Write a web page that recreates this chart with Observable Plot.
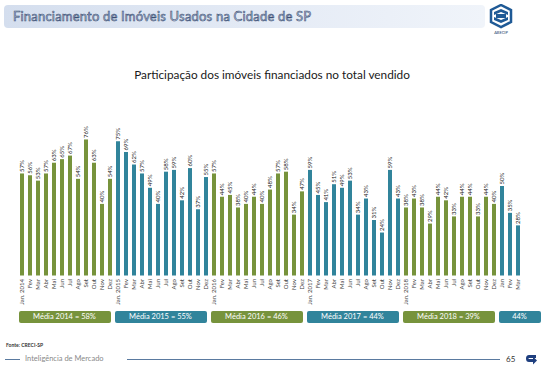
<!DOCTYPE html>
<html>
<head>
<meta charset="utf-8">
<script src="https://cdn.jsdelivr.net/npm/d3@7"></script>
<script src="https://cdn.jsdelivr.net/npm/@observablehq/plot@0.6"></script>
<style>
  html, body { margin:0; padding:0; background:#fff; }
  #root { position:relative; width:544px; height:369px; overflow:hidden; font-family: Lato, "Open Sans", sans-serif; }
  #header { position:absolute; left:4px; top:5px; width:481px; height:23px; border-radius:4px;
    background: linear-gradient(90deg, #d4deee 0%, #e6ecf6 60%, #f0f4fa 100%); }
  #title { position:absolute; left:9px; top:3px; font-size:13px; font-weight:normal; color:#b9c6dc;
    -webkit-text-stroke:0.55px #3a4f74; letter-spacing:0.2px; white-space:nowrap; }
  #logo { position:absolute; left:489px; top:4px; }
  #subtitle { position:absolute; left:0; width:544px; top:67px; text-align:center; font-size:11.8px; color:#1a1a1a; }
  #chart { position:absolute; left:0; top:0; }
  .mean { position:absolute; top:311px; height:12px; line-height:12px; color:#fff; font-size:7.5px; text-align:center; border-radius:2px; white-space:nowrap; }
  #fonte { position:absolute; left:6px; top:342px; font-size:5px; font-weight:bold; color:#333; }
  #footline1 { position:absolute; left:5px; top:359px; width:15px; height:1px; background:#5a7aa0; }
  #footline2 { position:absolute; left:127px; top:359px; width:373px; height:1px; background:#5a7aa0; }
  #foottext { position:absolute; left:25px; top:354px; font-size:7.5px; color:#8a8a8a; white-space:nowrap; }
  #page { position:absolute; left:506px; top:354px; font-size:8px; color:#333; }
  #arrow { position:absolute; left:524px; top:352px; }
</style>
</head>
<body>
<div id="root">
  <div id="header"><div id="title">Financiamento de Imóveis Usados na Cidade de SP</div></div>
  <svg id="logo" width="26" height="32" viewBox="0 0 26 32">
    <polygon points="12,1 22,6 22,18 12,23 2,18 2,6" fill="#fff" stroke="#1f5a96" stroke-width="2.5"/>
    <path d="M5,8 L12,5 L19,8 L19,11 L12,8 L5,11 Z" fill="#1f5a96"/>
    <path d="M5,13 L12,16 L19,13 L19,16 L12,19 L5,16 Z" fill="#1f5a96"/>
    <rect x="7" y="10" width="10" height="4" fill="#1f5a96"/>
    <text x="12" y="30" text-anchor="middle" font-size="4" font-family="Lato" fill="#1f3f6f">ABECIP</text>
  </svg>
  <div id="subtitle">Participação dos imóveis financiados no total vendido</div>
  <div id="chart"></div>
  <div id="fonte">Fonte: CRECI-SP</div>
  <div id="footline1"></div>
  <div id="foottext">Inteligência de Mercado</div>
  <div id="footline2"></div>
  <div id="page">65</div>
  <svg id="arrow" width="14" height="14" viewBox="0 0 14 14">
    <path d="M2,3 L9,3 Q12,3 12,6.5 Q12,10 9,10 L5,10 L5,12.5 L1,8.5 L5,4.5 L5,7 L9,7 Q9.5,7 9.5,6.5 Q9.5,6 9,6 L2,6 Z" fill="#1f3f7f" transform="scale(-1,1) translate(-14,0)"/>
  </svg>
</div>
<script>
const years = [2014, 2015, 2016, 2017, 2018, 2019];
const months = ["Jan","Fev","Mar","Abr","Mai","Jun","Jul","Ago","Set","Out","Nov","Dez"];
const values2014 = [57, 56, 53, 57, 63, 65, 67, 54, 76, 63, 40, 54];
const values2015 = [75, 69, 62, 57, 49, 40, 58, 59, 42, 60, 37, 55];
const values2016 = [57, 44, 45, 38, 40, 44, 40, 48, 57, 58, 34, 47];
const values2017 = [59, 45, 41, 51, 49, 53, 34, 43, 31, 24, 59, 43];
const values2018 = [38, 43, 38, 29, 44, 42, 33, 44, 44, 33, 44, 40];
const values2019 = [50, 35, 28];
const meanLabels = ["Média 2014 = 58%", "Média 2015 = 55%", "Média 2016 = 46%", "Média 2017 = 44%", "Média 2018 = 39%", "44%"];
const yearColors = ["#77933c", "#31849b", "#77933c", "#31849b", "#77933c", "#31849b"];

const series = [values2014, values2015, values2016, values2017, values2018, values2019];
const data = [];
series.forEach((vals, i) => vals.forEach((v, j) => data.push({
  key: years[i] + "-" + j, year: years[i], yi: i, month: j, value: v, color: yearColors[i],
  label: (j === 0 && years[i] !== 2019) ? "Jan. " + years[i] : months[j]
})));
const labelOf = new Map(data.map(d => [d.key, d.label]));

const plot = Plot.plot({
  width: 544, height: 369,
  marginLeft: 4.2, marginRight: 8.5, marginTop: 96.5, marginBottom: 93.5,
  style: { background: "transparent", fontFamily: "Lato, 'Open Sans', sans-serif", fontSize: "6px", color: "#444" },
  x: { domain: data.map(d => d.key), paddingInner: 0.52, paddingOuter: 0.25, tickFormat: k => labelOf.get(k),
       tickRotate: -90, tickSize: 0, tickPadding: 3, label: null },
  y: { domain: [0, 100], axis: null },
  marks: [
    Plot.barY(data, { x: "key", y: "value", fill: "color" }),
    Plot.text(data, { x: "key", y: "value", text: d => d.value + "%", rotate: -90, textAnchor: "start",
      dy: -2, fontSize: 6, fill: "#222" })
  ]
});
document.getElementById("chart").appendChild(plot);

const xs = plot.scale("x");
const bw = xs.bandwidth;
const root = document.getElementById("root");
years.forEach((y, i) => {
  const yearKeys = data.filter(d => d.yi === i).map(d => d.key);
  const x0 = xs.apply(yearKeys[0]) - 1.5;
  let x1 = xs.apply(yearKeys[yearKeys.length - 1]) + bw - 1.5;
  if (i === years.length - 1) x1 = 540.5;
  const div = document.createElement("div");
  div.className = "mean";
  div.style.left = x0 + "px";
  div.style.width = (x1 - x0) + "px";
  div.style.background = yearColors[i];
  div.textContent = meanLabels[i];
  root.appendChild(div);
});
</script>
</body>
</html>
